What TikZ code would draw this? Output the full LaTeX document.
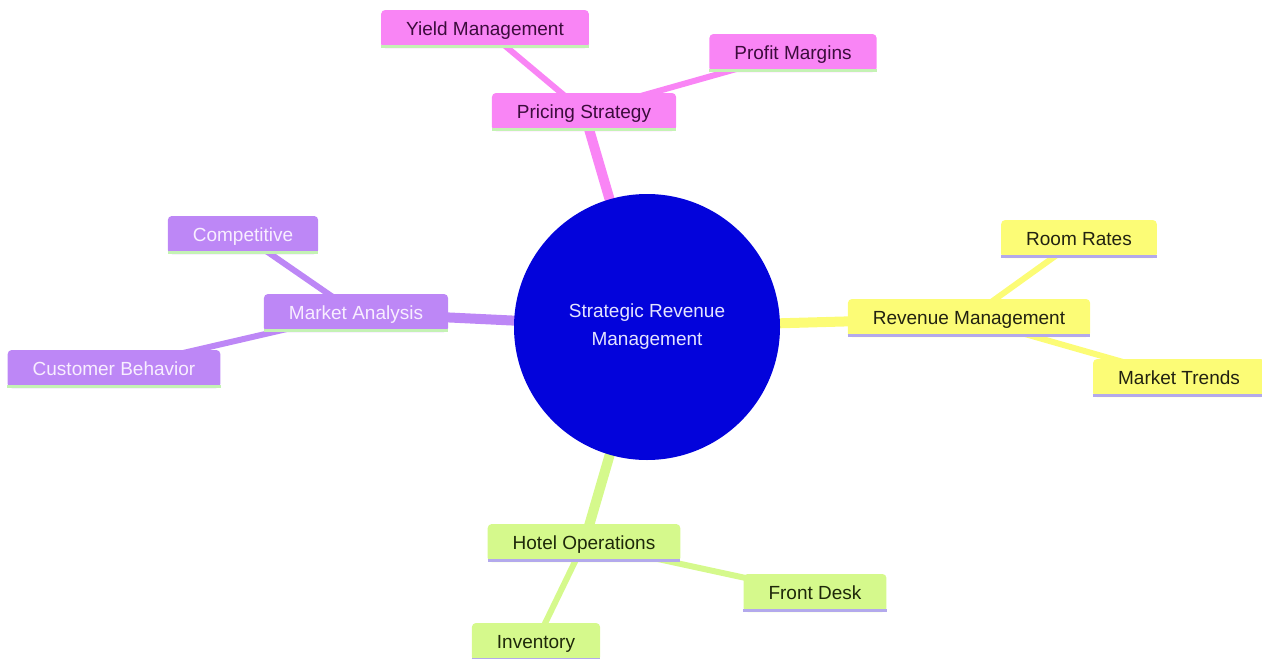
\documentclass[tikz,border=0pt]{standalone}
\usepackage{fontspec}
\setmainfont{Liberation Sans}
\usetikzlibrary{backgrounds}

\definecolor{rootblue}{HTML}{0303DB}
\definecolor{rootText}{HTML}{E4E4FF}
\definecolor{pinkFill}{HTML}{F985F5}
\definecolor{pinkText}{HTML}{3C0C3C}
\definecolor{purpleFill}{HTML}{BD87F6}
\definecolor{purpleText}{HTML}{F8EEFF}
\definecolor{yellowFill}{HTML}{FCFC76}
\definecolor{yellowText}{HTML}{222211}
\definecolor{greenFill}{HTML}{D5F98C}
\definecolor{greenText}{HTML}{1E280A}
\definecolor{greenLine}{HTML}{C4F2B4}
\definecolor{lilacLine}{HTML}{B3A9EC}

\tikzset{
  topic/.style={rounded corners=4pt, minimum height=38pt, inner xsep=25pt,
    inner ysep=0pt, text height=14pt, text depth=2pt,
    font=\fontsize{19}{28}\selectfont},
  pricing/.style={topic, fill=pinkFill, text=pinkText},
  analysis/.style={topic, fill=purpleFill, text=purpleText},
  revenue/.style={topic, fill=yellowFill, text=yellowText},
  operations/.style={topic, fill=greenFill, text=greenText},
}

\begin{document}
\begin{tikzpicture}[x=1pt, y=-1pt]
  \useasboundingbox (0,0) rectangle (1262,659);

  % root
  \node [circle, fill=rootblue, text=rootText, minimum size=266pt, align=center,
    font=\fontsize{19}{28}\selectfont] (root) at (647,327)
    {Strategic Revenue\\Management};

  % branches
  \node [pricing] (price) at (584,112) {Pricing Strategy};
  \node [pricing] (yield) at (485,29) {Yield Management};
  \node [pricing] (profit) at (793,53) {Profit Margins};

  \node [analysis] (market) at (356,313) {Market Analysis};
  \node [analysis] (compet) at (243,235) {Competitive};
  \node [analysis] (customer) at (114,369) {Customer Behavior};

  \node [revenue] (revmgmt) at (969,318) {Revenue Management};
  \node [revenue] (rates) at (1079,239) {Room Rates};
  \node [revenue] (trends) at (1179,378) {Market Trends};

  \node [operations] (hotel) at (584,543) {Hotel Operations};
  \node [operations] (desk) at (815,593) {Front Desk};
  \node [operations] (inventory) at (536,642) {Inventory};
  %
  \foreach \n/\c in {price/greenLine, yield/greenLine, profit/greenLine,
      market/greenLine, compet/greenLine, customer/greenLine,
      revmgmt/lilacLine, rates/lilacLine, trends/lilacLine,
      hotel/lilacLine, desk/lilacLine, inventory/lilacLine}
    \draw [\c, line width=3pt] ([yshift=1.5pt]\n.south west) -- ([yshift=1.5pt]\n.south east);

  \begin{scope}[on background layer]
    \foreach \a/\b/\c/\w in {root/price/pinkFill/10, price/yield/pinkFill/6,
        price/profit/pinkFill/6, root/market/purpleFill/10,
        market/compet/purpleFill/6, market/customer/purpleFill/6,
        root/revmgmt/yellowFill/10, revmgmt/rates/yellowFill/6,
        revmgmt/trends/yellowFill/6, root/hotel/greenFill/10,
        hotel/desk/greenFill/6, hotel/inventory/greenFill/6}
      \draw [\c, line width=\w pt] (\a.center) -- (\b.center);
  \end{scope}
\end{tikzpicture}
\end{document}
